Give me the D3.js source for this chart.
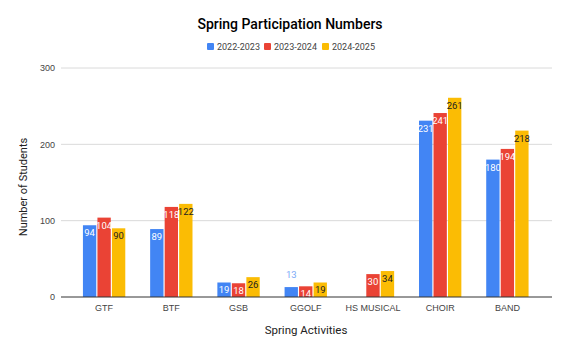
<!DOCTYPE html>
<html lang="en">
<head>
<meta charset="utf-8">
<title>Spring Participation Numbers</title>
<script src="https://d3js.org/d3.v7.min.js"></script>
<style>
  body { margin: 0; background: #fff; }
  svg { font-family: Roboto, "Noto Sans", Arial, sans-serif; }
  .tick text { fill: #444; font-size: 9px; }
</style>
</head>
<body>
<script>
// data
const activities = ["GTF", "BTF", "GSB", "GGOLF", "HS MUSICAL", "CHOIR", "BAND"];
const seasons = ["2022-2023", "2023-2024", "2024-2025"];
const v2022 = [94, 89, 19, 13, null, 231, 180];
const v2023 = [104, 118, 18, 14, 30, 241, 194];
const v2024 = [90, 122, 26, 19, 34, 261, 218];
const yTicks = [0, 100, 200, 300];

const colors = ["#4285f4", "#ea4335", "#fbbc04"];
const labelColors = ["#ffffff", "#ffffff", "#222222"];

const width = 570, height = 353;
const plotLeft = 61, plotRight = 552, plotTop = 68, plotBottom = 297;

const rows = activities.map((a, i) => ({
  name: a,
  values: [v2022[i], v2023[i], v2024[i]]
}));

const svg = d3.select("body").append("svg")
  .attr("width", width)
  .attr("height", height);

const x = d3.scaleBand()
  .domain(activities)
  .range([70.5, 541])
  .paddingInner(0.37)
  .paddingOuter(0.185);

const xs = d3.scaleBand()
  .domain(seasons)
  .range([0, x.bandwidth()])
  .paddingInner(0.08);

const y = d3.scaleLinear()
  .domain([0, 300])
  .range([plotBottom, plotTop]);

// gridlines
svg.append("g")
  .selectAll("line")
  .data(yTicks.filter(t => t > 0))
  .join("line")
  .attr("x1", plotLeft).attr("x2", plotRight)
  .attr("y1", d => y(d)).attr("y2", d => y(d))
  .attr("stroke", "#dadada")
  .attr("stroke-width", 1);

// left axis (labels only)
const leftAxis = svg.append("g")
  .attr("transform", "translate(" + plotLeft + ",0)")
  .call(d3.axisLeft(y).tickValues(yTicks).tickSize(0).tickPadding(6));
leftAxis.select(".domain").remove();

// bars
const groups = svg.append("g")
  .selectAll("g")
  .data(rows)
  .join("g")
  .attr("transform", d => "translate(" + x(d.name) + ",0)");

const cells = groups.selectAll("g")
  .data(d => d.values.map((v, k) => ({ v: v, k: k })).filter(e => e.v != null))
  .join("g");

cells.append("rect")
  .attr("x", d => xs(seasons[d.k]))
  .attr("y", d => y(d.v))
  .attr("width", xs.bandwidth())
  .attr("height", d => plotBottom - y(d.v))
  .attr("fill", d => colors[d.k]);

cells.append("text")
  .attr("x", d => xs(seasons[d.k]) + xs.bandwidth() / 2)
  .attr("y", d => (plotBottom - y(d.v)) < 10.5 ? y(d.v) - 9 : y(d.v) + 11)
  .attr("text-anchor", "middle")
  .attr("font-size", "9.5px")
  .attr("fill", d => (plotBottom - y(d.v)) < 10.5 ? "#7baaf7" : labelColors[d.k])
  .text(d => d.v);

// bottom axis
const bottomAxis = svg.append("g")
  .attr("transform", "translate(0," + plotBottom + ")")
  .call(d3.axisBottom(x).tickSize(0).tickPadding(8));
bottomAxis.select(".domain").remove();
svg.append("line")
  .attr("x1", plotLeft).attr("x2", plotRight)
  .attr("y1", plotBottom).attr("y2", plotBottom)
  .attr("stroke", "#333")
  .attr("stroke-width", 1);

// title
svg.append("text")
  .attr("x", 290).attr("y", 29)
  .attr("text-anchor", "middle")
  .attr("font-size", "14px")
  .attr("font-weight", 500)
  .attr("fill", "#000")
  .text("Spring Participation Numbers");

// legend
const legendX = [207, 264, 322];
const legend = svg.append("g")
  .selectAll("g")
  .data(seasons)
  .join("g")
  .attr("transform", (d, i) => "translate(" + legendX[i] + ",47)");
legend.append("rect")
  .attr("x", 0).attr("y", -4)
  .attr("width", 7).attr("height", 7)
  .attr("rx", 1)
  .attr("fill", (d, i) => colors[i]);
legend.append("text")
  .attr("x", 10).attr("y", 3)
  .attr("font-size", "9px")
  .attr("fill", "#444")
  .text(d => d);

// axis titles
svg.append("text")
  .attr("transform", "translate(27,187) rotate(-90)")
  .attr("text-anchor", "middle")
  .attr("font-size", "11px")
  .attr("fill", "#222")
  .text("Number of Students");

svg.append("text")
  .attr("x", 306).attr("y", 334)
  .attr("text-anchor", "middle")
  .attr("font-size", "11.5px")
  .attr("fill", "#222")
  .text("Spring Activities");
</script>
</body>
</html>
